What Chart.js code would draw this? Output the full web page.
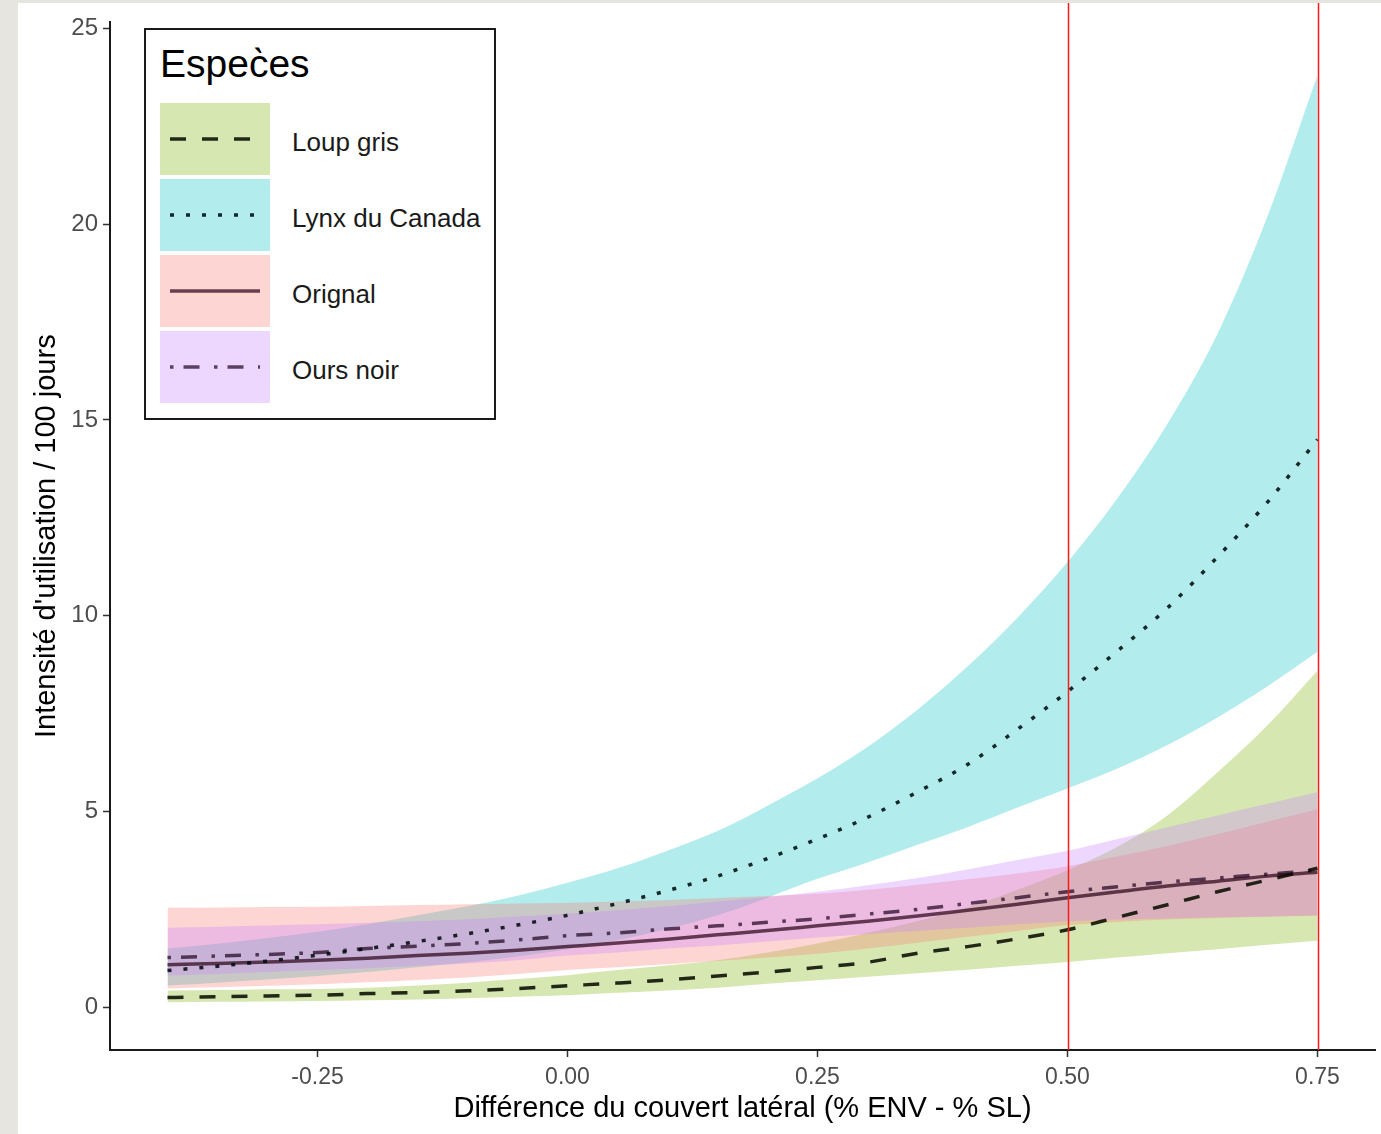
<!DOCTYPE html>
<html>
<head>
<meta charset="utf-8">
<script src="https://cdn.jsdelivr.net/npm/chart.js@4.4.1/dist/chart.umd.min.js"></script>
<style>
    body { margin: 0; background: #e7e5e0; font-family: 'Liberation Sans', Arial, sans-serif; }
    #wrap { position: absolute; left: 18px; top: 3px; width: 1363px; height: 1131px; background: #fff; }
    #legend { position: absolute; left: 144px; top: 28px; width: 348px; height: 388px; border: 2px solid #1a1a1a; background: #fff; }
    #legend .title { position: absolute; left: 14px; top: 15px; font-size: 39px; line-height: 38px; color: #000; white-space: nowrap; }
    #legend .key { position: absolute; left: 14px; width: 110px; height: 72px; }
    #legend .lab { position: absolute; left: 146px; height: 72px; line-height: 72px; font-size: 26px; color: #1a1a1a; white-space: nowrap; }
</style>
</head>
<body>
<div id="wrap"><canvas id="chart" width="1363" height="1131"></canvas></div>
<div id="legend"></div>
<script>
// valeurs (x = différence du couvert latéral)
const xs = [-0.40, -0.35, -0.30, -0.25, -0.20, -0.15, -0.10, -0.05, 0.00, 0.05, 0.10, 0.15,
    0.20, 0.25, 0.30, 0.35, 0.40, 0.45, 0.50, 0.55, 0.60, 0.65, 0.70, 0.75];

const loupMean = [0.25, 0.27, 0.29, 0.31, 0.35, 0.38, 0.42, 0.48, 0.55, 0.62, 0.70, 0.80,
    0.90, 1.02, 1.15, 1.38, 1.55, 1.75, 1.98, 2.30, 2.62, 2.95, 3.25, 3.55];
const loupLow = [0.13, 0.14, 0.15, 0.16, 0.18, 0.20, 0.23, 0.27, 0.31, 0.37, 0.43, 0.50,
    0.60, 0.69, 0.78, 0.87, 0.96, 1.06, 1.16, 1.27, 1.38, 1.48, 1.60, 1.70];
const loupHigh = [0.43, 0.44, 0.46, 0.47, 0.50, 0.56, 0.63, 0.72, 0.82, 0.95, 1.07, 1.20,
    1.40, 1.63, 1.90, 2.20, 2.55, 3.00, 3.50, 4.10, 4.90, 6.00, 7.20, 8.60];

const lynxMean = [0.94, 1.05, 1.18, 1.33, 1.50, 1.68, 1.88, 2.10, 2.35, 2.65, 2.98, 3.35,
    3.80, 4.30, 4.85, 5.50, 6.20, 7.10, 8.06, 9.10, 10.2, 11.5, 12.9, 14.5];
const lynxLow = [0.56, 0.63, 0.71, 0.80, 0.90, 1.02, 1.15, 1.30, 1.48, 1.72, 2.00, 2.35,
    2.80, 3.28, 3.70, 4.15, 4.60, 5.10, 5.59, 6.10, 6.70, 7.40, 8.20, 9.08];
const lynxHigh = [1.50, 1.62, 1.77, 1.93, 2.12, 2.35, 2.58, 2.85, 3.18, 3.55, 4.00, 4.50,
    5.15, 5.85, 6.65, 7.60, 8.70, 9.95, 11.37, 13.0, 14.9, 17.2, 20.2, 23.8];

const orignalMean = [1.09, 1.12, 1.16, 1.20, 1.25, 1.32, 1.38, 1.46, 1.55, 1.64, 1.74, 1.85,
    1.96, 2.08, 2.20, 2.33, 2.48, 2.63, 2.80, 2.95, 3.10, 3.22, 3.35, 3.45];
const orignalLow = [0.48, 0.51, 0.55, 0.59, 0.64, 0.70, 0.76, 0.85, 0.95, 1.02, 1.10, 1.18,
    1.27, 1.37, 1.50, 1.65, 1.80, 1.95, 2.10, 2.18, 2.24, 2.28, 2.31, 2.34];
const orignalHigh = [2.54, 2.55, 2.56, 2.57, 2.59, 2.61, 2.63, 2.65, 2.67, 2.70, 2.74, 2.79,
    2.84, 2.90, 3.00, 3.13, 3.27, 3.42, 3.60, 3.85, 4.12, 4.42, 4.74, 5.06];

const oursMean = [1.27, 1.31, 1.35, 1.40, 1.50, 1.56, 1.63, 1.72, 1.83, 1.90, 2.00, 2.08,
    2.17, 2.26, 2.38, 2.50, 2.65, 2.80, 2.95, 3.08, 3.20, 3.30, 3.40, 3.50];
const oursLow = [0.81, 0.85, 0.90, 0.95, 1.00, 1.06, 1.12, 1.20, 1.32, 1.40, 1.50, 1.58,
    1.68, 1.78, 1.87, 1.95, 2.03, 2.12, 2.20, 2.24, 2.27, 2.30, 2.32, 2.35];
const oursHigh = [2.03, 2.06, 2.09, 2.12, 2.16, 2.20, 2.25, 2.32, 2.39, 2.48, 2.58, 2.70,
    2.82, 2.95, 3.12, 3.30, 3.52, 3.76, 4.00, 4.30, 4.60, 4.90, 5.20, 5.50];

const especes = ['Loup gris', 'Lynx du Canada', 'Orignal', 'Ours noir'];
const xTicks = [-0.25, 0, 0.25, 0.5, 0.75];
const yTicks = [0, 5, 10, 15, 20, 25];
const vLines = [0.5, 0.75];

const FONT = "'Liberation Sans', Arial, sans-serif";

const series = [
    { mean: loupMean, low: loupLow, high: loupHigh, fill: 'rgba(124,174,0,0.3)', line: 'rgba(10,12,0,0.88)', dash: [16, 16] },
    { mean: lynxMean, low: lynxLow, high: lynxHigh, fill: 'rgba(0,191,196,0.3)', line: 'rgba(0,12,12,0.88)', dash: [4, 12] },
    { mean: orignalMean, low: orignalLow, high: orignalHigh, fill: 'rgba(248,118,109,0.3)', line: 'rgba(40,0,20,0.7)', dash: [] },
    { mean: oursMean, low: oursLow, high: oursHigh, fill: 'rgba(199,124,255,0.3)', line: 'rgba(30,0,30,0.7)', dash: [3.5, 10, 16, 14.5] },
];

const pts = (ys) => ys.map((y, i) => ({ x: xs[i], y }));

const datasets = [];
series.forEach((s, i) => {
    const order = 10 - i;
    datasets.push({
        label: especes[i],
        data: pts(s.high),
        fill: '+1',
        backgroundColor: s.fill,
        borderColor: 'transparent',
        borderWidth: 0,
        pointRadius: 0,
        cubicInterpolationMode: 'monotone',
        order,
    });
    datasets.push({
        label: especes[i] + ' bas',
        data: pts(s.low),
        fill: false,
        borderColor: 'transparent',
        borderWidth: 0,
        pointRadius: 0,
        cubicInterpolationMode: 'monotone',
        order,
    });
});
series.forEach((s, i) => {
    datasets.push({
        label: especes[i] + ' moyenne',
        data: pts(s.mean),
        fill: false,
        borderColor: s.line,
        borderWidth: 3.5,
        borderDash: s.dash,
        borderCapStyle: 'butt',
        pointRadius: 0,
        cubicInterpolationMode: 'monotone',
        order: 1,
    });
});

const vLinePlugin = {
    id: 'vlines',
    afterDatasetsDraw(chart) {
        const { ctx, chartArea, scales } = chart;
        ctx.save();
        ctx.strokeStyle = '#ff1a1a';
        ctx.lineWidth = 1.5;
        vLines.forEach((v) => {
            const px = Math.round(scales.x.getPixelForValue(v)) + 0.5;
            ctx.beginPath();
            ctx.moveTo(px, 0);
            ctx.lineTo(px, chartArea.bottom);
            ctx.stroke();
        });
        ctx.restore();
    },
};

new Chart(document.getElementById('chart'), {
    type: 'line',
    data: { datasets },
    plugins: [vLinePlugin],
    options: {
        responsive: false,
        animation: false,
        layout: { padding: { top: 15, right: 6, left: 0, bottom: 0 } },
        plugins: { legend: { display: false }, tooltip: { enabled: false } },
        scales: {
            x: {
                type: 'linear',
                min: -0.4575,
                max: 0.8075,
                afterBuildTicks: (s) => { s.ticks = xTicks.map((v) => ({ value: v })); },
                afterFit: (s) => { s.height = 84; },
                ticks: {
                    callback: (v) => Number(v).toFixed(2),
                    color: '#4d4d4d',
                    font: { family: FONT, size: 23 },
                    padding: 7,
                    maxRotation: 0,
                    autoSkip: false,
                },
                grid: { drawOnChartArea: false, tickLength: 7, tickColor: '#333', tickWidth: 1.5 },
                border: { color: '#1a1a1a', width: 2 },
                title: {
                    display: true,
                    text: 'Différence du couvert latéral (% ENV - % SL)',
                    color: '#000',
                    font: { family: FONT, size: 29 },
                    padding: { top: 0, bottom: 8 },
                },
            },
            y: {
                type: 'linear',
                min: -1.09,
                max: 25.15,
                afterBuildTicks: (s) => { s.ticks = yTicks.map((v) => ({ value: v })); },
                afterFit: (s) => { s.width = 92; },
                ticks: {
                    callback: (v) => `${v}`,
                    color: '#4d4d4d',
                    font: { family: FONT, size: 24 },
                    padding: 5,
                },
                grid: { drawOnChartArea: false, tickLength: 7, tickColor: '#333', tickWidth: 1.5 },
                border: { color: '#1a1a1a', width: 2 },
                title: {
                    display: true,
                    text: "Intensité d'utilisation / 100 jours",
                    color: '#000',
                    font: { family: FONT, size: 29 },
                    padding: { top: 12, bottom: 0 },
                },
            },
        },
    },
});

// légende à la façon ggplot
const legendEl = document.getElementById('legend');
let html = '<div class="title">Espec\u0300es</div>';
series.forEach((s, i) => {
    const top = 73 + i * 76;
    const dash = s.dash.length ? `stroke-dasharray="${s.dash.join(' ')}"` : '';
    html += `<div class="key" style="top:${top}px;background:${s.fill}">
        <svg width="110" height="72"><line x1="10" y1="36" x2="100" y2="36" stroke="${s.line}" stroke-width="3.5" ${dash}/></svg>
    </div>
    <div class="lab" style="top:${top + 3}px">${especes[i]}</div>`;
});
legendEl.innerHTML = html;
</script>
</body>
</html>
